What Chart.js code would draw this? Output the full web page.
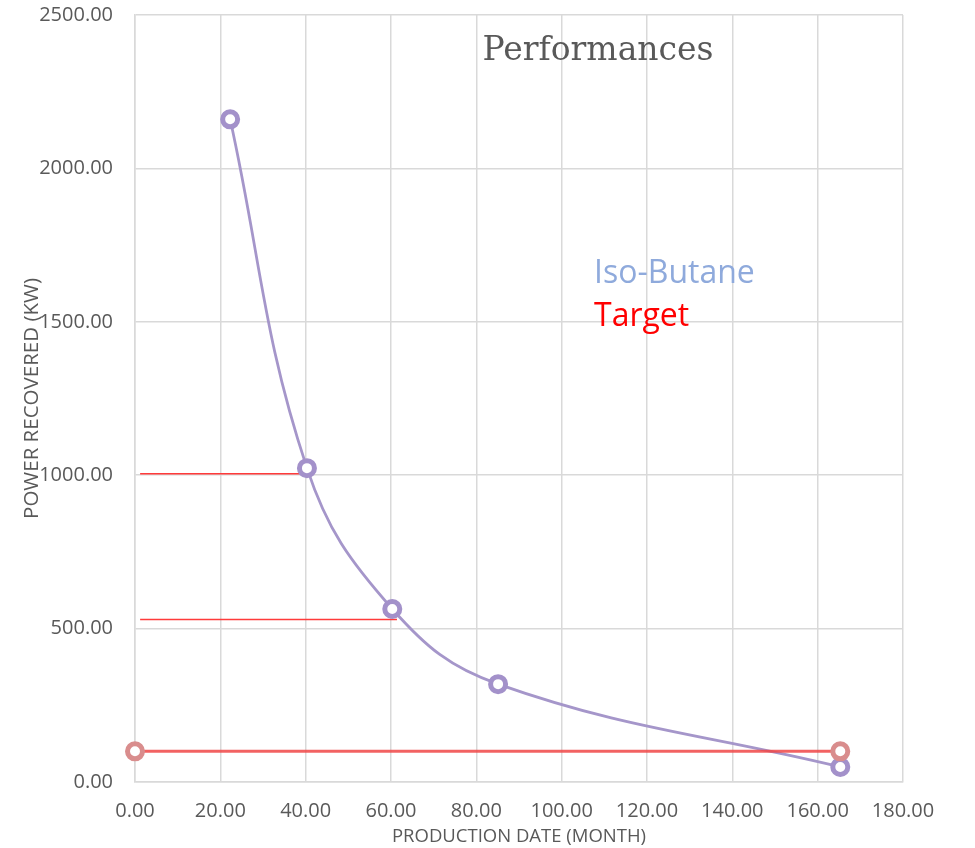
<!DOCTYPE html>
<html>
<head>
<meta charset="utf-8">
<title>Performances</title>
<script src="https://cdn.jsdelivr.net/npm/chart.js@4/dist/chart.umd.min.js"></script>
<style>
  html, body { margin: 0; padding: 0; background: #ffffff; }
  #wrap { width: 975px; height: 848px; }
</style>
</head>
<body>
<div id="wrap"><canvas id="perfChart" width="975" height="848"></canvas></div>
<script>
// Iso-Butane recovered power vs production date
const months = [22.3, 40.3, 60.3, 85.1, 165.3];
const isoButanePower = [2160, 1023, 564, 319, 49];

// Target level
const targetMonths = [0, 165.3];
const targetPower = [100, 100];

// Thin red guide lines
const guideA = { months: [1.2, 41.5], power: 1005 };
const guideB = { months: [1.2, 61.4], power: 530 };

const xTicks = { min: 0, max: 180, step: 20 };
const yTicks = { min: 0, max: 2500, step: 500 };

const GREY = '#595959';
const GRID = '#d9d9d9';
const PURPLE = '#a596ca';

const toPoints = (xs, ys) => xs.map((x, i) => ({ x, y: Array.isArray(ys) ? ys[i] : ys }));

// Title and legend text sit inside the plot area
const overlayText = {
    id: 'overlayText',
    afterDraw(chart) {
        const ctx = chart.ctx;
        ctx.save();
        ctx.textBaseline = 'alphabetic';
        ctx.textAlign = 'center';
        ctx.fillStyle = GREY;
        ctx.font = '33px "DejaVu Serif"';
        ctx.fillText('Performances', 598, 60);

        ctx.textAlign = 'left';
        ctx.font = '32px "Open Sans"';
        ctx.fillStyle = '#8faadc';
        ctx.fillText('Iso-Butane', 594, 283);
        ctx.fillStyle = '#ff0000';
        ctx.fillText('Target', 594, 326);
        ctx.restore();
    }
};

const ctx = document.getElementById('perfChart').getContext('2d');
new Chart(ctx, {
    type: 'line',
    data: {
        datasets: [
            {
                label: 'Target',
                data: toPoints(targetMonths, targetPower),
                borderColor: 'rgba(240, 70, 70, 0.85)',
                borderWidth: 3,
                pointRadius: 7.5,
                pointBorderWidth: 5,
                pointBorderColor: '#d98d8d',
                pointBackgroundColor: '#ffffff',
                tension: 0,
                clip: false
            },
            {
                label: 'Iso-Butane',
                data: toPoints(months, isoButanePower),
                borderColor: PURPLE,
                borderWidth: 2.8,
                pointRadius: 7.5,
                pointBorderWidth: 5,
                pointBorderColor: '#a391ca',
                pointBackgroundColor: '#ffffff',
                tension: 0.4,
                clip: false
            },
            {
                label: 'guide-a',
                data: toPoints(guideA.months, guideA.power),
                borderColor: '#ff3b3b',
                borderWidth: 1.5,
                pointRadius: 0,
                clip: false
            },
            {
                label: 'guide-b',
                data: toPoints(guideB.months, guideB.power),
                borderColor: '#ff3b3b',
                borderWidth: 1.5,
                pointRadius: 0,
                clip: false
            }
        ]
    },
    options: {
        responsive: false,
        animation: false,
        layout: { padding: { top: 15, right: 72, left: 0, bottom: 0 } },
        plugins: {
            legend: { display: false },
            tooltip: { enabled: false }
        },
        scales: {
            x: {
                type: 'linear',
                min: xTicks.min,
                max: xTicks.max,
                grid: { color: GRID, lineWidth: 1.5, drawTicks: false },
                border: { color: GRID, width: 1.5 },
                ticks: {
                    stepSize: xTicks.step,
                    maxRotation: 0,
                    padding: 17,
                    color: GREY,
                    font: { family: 'Open Sans', size: 20 },
                    callback: v => v.toFixed(2)
                },
                title: {
                    display: true,
                    text: 'PRODUCTION DATE (MONTH)',
                    color: GREY,
                    font: { family: 'Open Sans', size: 18.5 },
                    padding: { top: 0, bottom: 0 }
                },
                afterFit(scale) {
                    scale.height = 66;
                    scale.paddingLeft = 0;
                    scale.paddingRight = 0;
                }
            },
            y: {
                type: 'linear',
                min: yTicks.min,
                max: yTicks.max,
                grid: { color: GRID, lineWidth: 1.5, drawTicks: false },
                border: { color: GRID, width: 1.5 },
                ticks: {
                    stepSize: yTicks.step,
                    padding: 22,
                    color: GREY,
                    font: { family: 'Open Sans', size: 20 },
                    callback: v => v.toFixed(2)
                },
                title: {
                    display: true,
                    text: 'POWER RECOVERED (KW)',
                    color: GREY,
                    font: { family: 'Open Sans', size: 20.5 },
                    padding: { top: 20, bottom: 0 }
                },
                afterFit(scale) {
                    scale.width = 135;
                    scale.paddingTop = 0;
                    scale.paddingBottom = 0;
                }
            }
        }
    },
    plugins: [overlayText]
});
</script>
</body>
</html>
